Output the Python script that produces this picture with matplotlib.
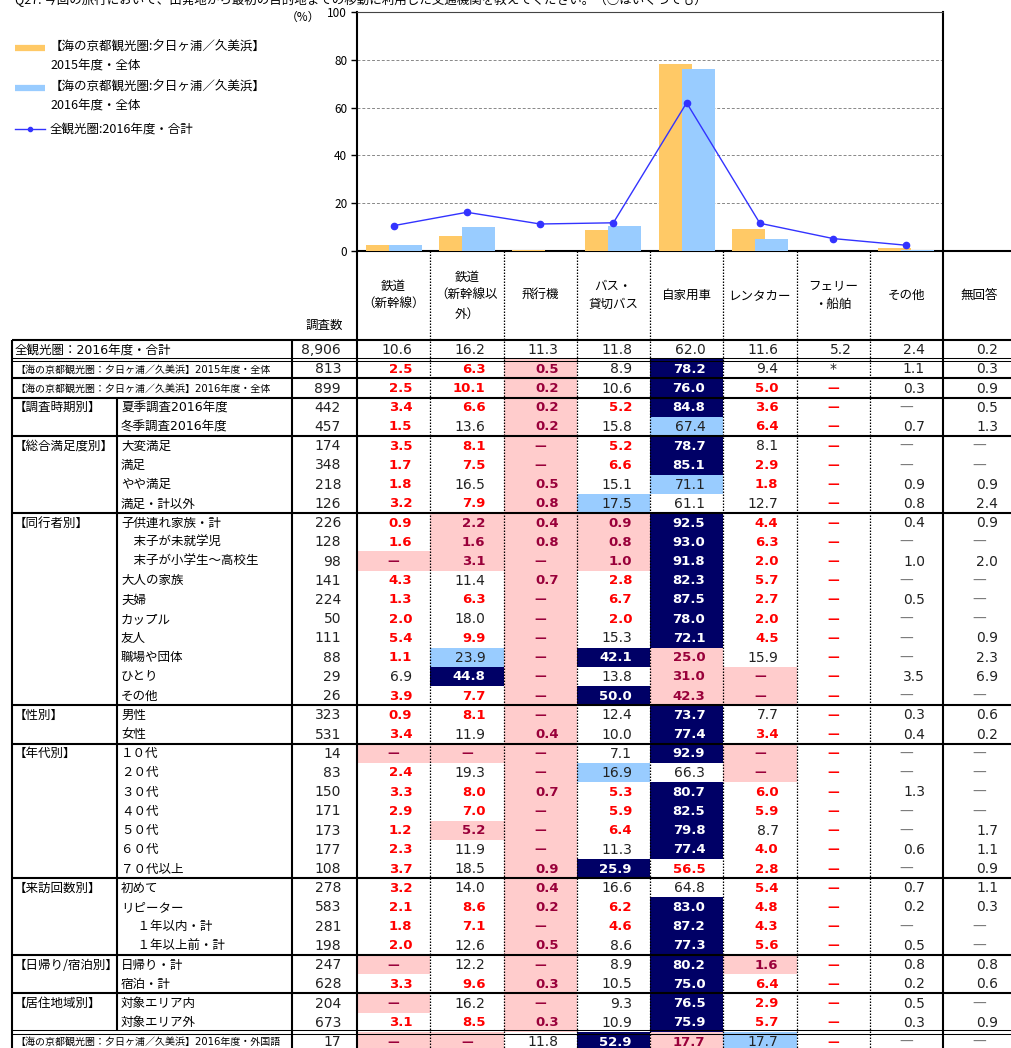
import matplotlib
matplotlib.use('Agg')
import matplotlib.pyplot as plt
from matplotlib.patches import Rectangle
import numpy as np

JP = ['Noto Sans CJK JP', 'DejaVu Sans']
NUM = ['DejaVu Sans', 'Noto Sans CJK JP']
plt.rcParams['font.family'] = JP

# ---------------- data ----------------
categories = ['鉄道\n（新幹線）', '鉄道\n（新幹線以\n外）', '飛行機', 'バス・\n貸切バス', '自家用車',
              'レンタカー', 'フェリー\n・船舶', 'その他', '無回答']
chart_categories = categories[:8]
share_2015 = [2.5, 6.3, 0.5, 8.9, 78.2, 9.4, np.nan, 1.1]
share_2016 = [2.5, 10.1, 0.2, 10.6, 76.0, 5.0, 0.0, 0.3]
share_all = [10.6, 16.2, 11.3, 11.8, 62.0, 11.6, 5.2, 2.4]
y_ticks = [0, 20, 40, 60, 80, 100]
legend_labels = ['【海の京都観光圏:夕日ヶ浦／久美浜】\n2015年度・全体',
                 '【海の京都観光圏:夕日ヶ浦／久美浜】\n2016年度・全体',
                 '全観光圏:2016年度・合計']

top_rows = ['全観光圏：2016年度・合計',
            '【海の京都観光圏：夕日ヶ浦／久美浜】2015年度・全体',
            '【海の京都観光圏：夕日ヶ浦／久美浜】2016年度・全体']
group_names = ['【調査時期別】', '【総合満足度別】', '【同行者別】', '【性別】', '【年代別】',
               '【来訪回数別】', '【日帰り/宿泊別】', '【居住地域別】']
group_rows = [
    ['夏季調査2016年度', '冬季調査2016年度'],
    ['大変満足', '満足', 'やや満足', '満足・計以外'],
    ['子供連れ家族・計', '　末子が未就学児', '　末子が小学生～高校生', '大人の家族', '夫婦',
     'カップル', '友人', '職場や団体', 'ひとり', 'その他'],
    ['男性', '女性'],
    ['１０代', '２０代', '３０代', '４０代', '５０代', '６０代', '７０代以上'],
    ['初めて', 'リピーター', '　 １年以内・計', '　 １年以上前・計'],
    ['日帰り・計', '宿泊・計'],
    ['対象エリア内', '対象エリア外'],
]
bottom_rows = ['【海の京都観光圏：夕日ヶ浦／久美浜】2016年度・外国語']

sample_sizes = ['8,906', '813', '899', '442', '457', '174', '348', '218', '126', '226', '128',
                '98', '141', '224', '50', '111', '88', '29', '26', '323', '531', '14', '83',
                '150', '171', '173', '177', '108', '278', '583', '281', '198', '247', '628',
                '204', '673', '17']

# cell values ("-" = dash) and marks: n plain, r red, p pink cell, d navy cell, b light-blue cell
table_values = [
    "10.6 16.2 11.3 11.8 62.0 11.6 5.2 2.4 0.2",
    "2.5 6.3 0.5 8.9 78.2 9.4 * 1.1 0.3",
    "2.5 10.1 0.2 10.6 76.0 5.0 - 0.3 0.9",
    "3.4 6.6 0.2 5.2 84.8 3.6 - - 0.5",
    "1.5 13.6 0.2 15.8 67.4 6.4 - 0.7 1.3",
    "3.5 8.1 - 5.2 78.7 8.1 - - -",
    "1.7 7.5 - 6.6 85.1 2.9 - - -",
    "1.8 16.5 0.5 15.1 71.1 1.8 - 0.9 0.9",
    "3.2 7.9 0.8 17.5 61.1 12.7 - 0.8 2.4",
    "0.9 2.2 0.4 0.9 92.5 4.4 - 0.4 0.9",
    "1.6 1.6 0.8 0.8 93.0 6.3 - - -",
    "- 3.1 - 1.0 91.8 2.0 - 1.0 2.0",
    "4.3 11.4 0.7 2.8 82.3 5.7 - - -",
    "1.3 6.3 - 6.7 87.5 2.7 - 0.5 -",
    "2.0 18.0 - 2.0 78.0 2.0 - - -",
    "5.4 9.9 - 15.3 72.1 4.5 - - 0.9",
    "1.1 23.9 - 42.1 25.0 15.9 - - 2.3",
    "6.9 44.8 - 13.8 31.0 - - 3.5 6.9",
    "3.9 7.7 - 50.0 42.3 - - - -",
    "0.9 8.1 - 12.4 73.7 7.7 - 0.3 0.6",
    "3.4 11.9 0.4 10.0 77.4 3.4 - 0.4 0.2",
    "- - - 7.1 92.9 - - - -",
    "2.4 19.3 - 16.9 66.3 - - - -",
    "3.3 8.0 0.7 5.3 80.7 6.0 - 1.3 -",
    "2.9 7.0 - 5.9 82.5 5.9 - - -",
    "1.2 5.2 - 6.4 79.8 8.7 - - 1.7",
    "2.3 11.9 - 11.3 77.4 4.0 - 0.6 1.1",
    "3.7 18.5 0.9 25.9 56.5 2.8 - - 0.9",
    "3.2 14.0 0.4 16.6 64.8 5.4 - 0.7 1.1",
    "2.1 8.6 0.2 6.2 83.0 4.8 - 0.2 0.3",
    "1.8 7.1 - 4.6 87.2 4.3 - - -",
    "2.0 12.6 0.5 8.6 77.3 5.6 - 0.5 -",
    "- 12.2 - 8.9 80.2 1.6 - 0.8 0.8",
    "3.3 9.6 0.3 10.5 75.0 6.4 - 0.2 0.6",
    "- 16.2 - 9.3 76.5 2.9 - 0.5 -",
    "3.1 8.5 0.3 10.9 75.9 5.7 - 0.3 0.9",
    "- - 11.8 52.9 17.7 17.7 - - -",
]
table_marks = [
    "nnnnnnnnn", "rrpndnnnn", "rrpndrrnn", "rrprdrrnn", "rnpnbrrnn",
    "rrprdnrnn", "rrprdrrnn", "rnpnbrrnn", "rrpbnnrnn",
    "rpppdrrnn", "rpppdrrnn", "ppppdrrnn", "rnprdrrnn", "rrprdrrnn", "rnprdrrnn",
    "rrpndrrnn", "rbpdpnrnn", "ndpnpprnn", "rrpdpprnn",
    "rrpndnrnn", "rnpndrrnn",
    "pppndprnn", "rnpbnprnn", "rrprdrrnn", "rrprdrrnn", "rpprdnrnn", "rnpndrrnn", "rnpdrrrnn",
    "rnpnnrrnn", "rrprdrrnn", "rrprdrrnn", "rnpndrrnn",
    "pnpndprnn", "rrpndrrnn",
    "pnpndrrnn", "rrpndrrnn",
    "ppndpbrnn",
]

title = 'Q27. 今回の旅行において、出発地から最初の目的地までの移動に利用した交通機関を教えてください。（○はいくつでも）'

# ---------------- style ----------------
C_2015 = '#FFC966'
C_2016 = '#99CCFF'
C_LINE = '#3333FF'
PINK = '#FFCCCC'
NAVY = '#000066'
LBLUE = '#99CCFF'
RED = '#FF0000'
DRED = '#99003A'

W, H = 1011, 1048
fig = plt.figure(figsize=(W / 100, H / 100), dpi=100)
ax = fig.add_axes([0, 0, 1, 1])
ax.set_xlim(0, W)
ax.set_ylim(H, 0)
ax.axis('off')

TABLE_LEFT = 12
GROUP_X = 117
LABEL_X = 292
N_X = 357
COL_W = (943 - 357) / 8
col_edges = [N_X + i * COL_W for i in range(10)]
CHART_TOP = 12
HEADER_TOP = 251
BODY_TOP = 340
ROW_H = 19.22
THICK = 1.5
THIN = 0.75

# ---------------- chart ----------------
cax = fig.add_axes([N_X / W, 1 - HEADER_TOP / H, (col_edges[8] - N_X) / W, (HEADER_TOP - CHART_TOP) / H])
cax.set_facecolor('none')
x = np.arange(len(chart_categories))
off = 11.5 / COL_W
bw = 33 / COL_W
cax.bar(x - off, share_2015, width=bw, color=C_2015, zorder=2)
cax.bar(x + off, share_2016, width=bw, color=C_2016, zorder=3)
cax.plot(x, share_all, color=C_LINE, lw=1.0, marker='o', ms=4.5, zorder=4)
cax.set_xlim(-0.5, len(chart_categories) - 0.5)
cax.set_ylim(0, 100)
cax.set_yticks(y_ticks)
cax.set_yticklabels([str(t) for t in y_ticks], fontsize=8.5)
cax.set_xticks([])
cax.yaxis.grid(True, ls=(0, (3, 2)), color='#888888', lw=0.7, zorder=1)
cax.set_axisbelow(True)
cax.tick_params(axis='y', direction='out', length=4, width=1, pad=3)
cax.spines['bottom'].set_visible(False)
cax.spines['top'].set_linestyle((0, (2, 1)))
cax.spines['top'].set_color('#444444')
cax.spines['top'].set_linewidth(0.8)
for s in ('left', 'right'):
    cax.spines[s].set_linewidth(THICK)
    cax.spines[s].set_color('black')

fig.text(303 / W, 1 - 17 / H, '（%）', fontsize=8.5, ha='center', va='center')

# legend (drawn by hand at the top left)
ax.plot([15, 45], [48, 48], color=C_2015, lw=4.5, solid_capstyle='butt')
ax.plot([15, 45], [88, 88], color=C_2016, lw=4.5, solid_capstyle='butt')
ax.plot([15, 45], [129, 129], color=C_LINE, lw=1.0)
ax.plot([30], [129], marker='o', ms=3, color=C_LINE)
ax.text(50, 56, legend_labels[0], fontsize=9, ha='left', va='center', linespacing=1.5)
ax.text(50, 96, legend_labels[1], fontsize=9, ha='left', va='center', linespacing=1.5)
ax.text(50, 129, legend_labels[2], fontsize=9, ha='left', va='center')

ax.text(15, 0, title, fontsize=9, ha='left', va='center')

# ---------------- table header ----------------
for i, cat in enumerate(categories):
    ax.text((col_edges[i] + col_edges[i + 1]) / 2, 295.5, cat, ha='center', va='center',
            fontsize=9, linespacing=1.55, multialignment='center')
ax.text(324, 325, '調査数', ha='center', va='center', fontsize=9)

# ---------------- table body ----------------
labels = []  # (group label or None, row label, full-width?)
for t in top_rows:
    labels.append((None, t, True))
for g, rows in zip(group_names, group_rows):
    for k, r in enumerate(rows):
        labels.append((g if k == 0 else None, r, False))
for t in bottom_rows:
    labels.append((None, t, True))

n_rows = len(labels)
for r in range(n_rows):
    y0 = BODY_TOP + r * ROW_H
    yc = y0 + ROW_H / 2 + 0.5
    g, lab, full = labels[r]
    if full:
        fs = 9 if r == 0 else 7.2
        ax.text(TABLE_LEFT + 3, yc, lab, fontsize=fs, ha='left', va='center', family=NUM, zorder=4)
    else:
        if g:
            ax.text(TABLE_LEFT + 2, yc, g, fontsize=9, ha='left', va='center', zorder=4)
        ax.text(GROUP_X + 4, yc, lab, fontsize=9, ha='left', va='center', family=NUM, zorder=4)
    ax.text(N_X - 16, yc, sample_sizes[r], fontsize=10, ha='right', va='center', family=NUM,
            color='#222222', zorder=4)
    vals = table_values[r].split()
    marks = table_marks[r]
    for c in range(9):
        v, m = vals[c], marks[c]
        xl, xr = col_edges[c], col_edges[c + 1]
        if m in 'pdb':
            fill = {'p': PINK, 'd': NAVY, 'b': LBLUE}[m]
            ax.add_patch(Rectangle((xl, y0), xr - xl, ROW_H, facecolor=fill, edgecolor='none', zorder=1))
        color = {'n': '#222222', 'r': RED, 'p': DRED, 'd': 'white', 'b': '#222222'}[m]
        bold = m in 'rpd'
        if v == '-':
            if bold:
                ax.text((xl + xr) / 2, yc, '—', fontsize=8.5, fontweight='bold', color=color,
                        ha='center', va='center', family=NUM, zorder=4)
            else:
                ax.text((xl + xr) / 2, yc, '—', fontsize=10, color='#777777',
                        ha='center', va='center', family=NUM, zorder=4)
        elif v == '*':
            ax.text((xl + xr) / 2, yc, v, fontsize=10, color=color, ha='center', va='center',
                    family=NUM, zorder=4)
        else:
            ax.text(xr - 18, yc, v, fontsize=9.5 if bold else 10, fontweight='bold' if bold else 'normal',
                    color=color, ha='right', va='center', family=NUM, zorder=4)

# ---------------- table lines ----------------
right = col_edges[9]
def hline(y, lw=THICK, x0=TABLE_LEFT, x1=right):
    ax.plot([x0, x1], [y, y], color='black', lw=lw, solid_capstyle='butt', zorder=3)

def vline(xv, y0, y1, lw=THICK, ls='-'):
    ax.plot([xv, xv], [y0, y1], color='black', lw=lw, ls=ls, solid_capstyle='butt', zorder=3)

hline(HEADER_TOP, lw=THICK, x0=N_X)
hline(BODY_TOP)
bound = lambda k: BODY_TOP + k * ROW_H
for k in (1, n_rows - 1):
    hline(bound(k) - 1.6, lw=THIN)
    hline(bound(k) + 1.6, lw=THIN)
hline(bound(2))
hline(bound(3))
k = 3
for rows in group_rows[:-1]:
    k += len(rows)
    hline(bound(k))

vline(TABLE_LEFT, BODY_TOP, H)
vline(GROUP_X, bound(3), bound(n_rows - 1) - 1.6)
vline(LABEL_X, BODY_TOP, H)
vline(N_X, HEADER_TOP, H)
vline(col_edges[8], HEADER_TOP, H)
for c in range(1, 8):
    vline(col_edges[c], HEADER_TOP, H, lw=0.9, ls=(0, (1.2, 1.2)))

fig.savefig('out.png', dpi=100)
